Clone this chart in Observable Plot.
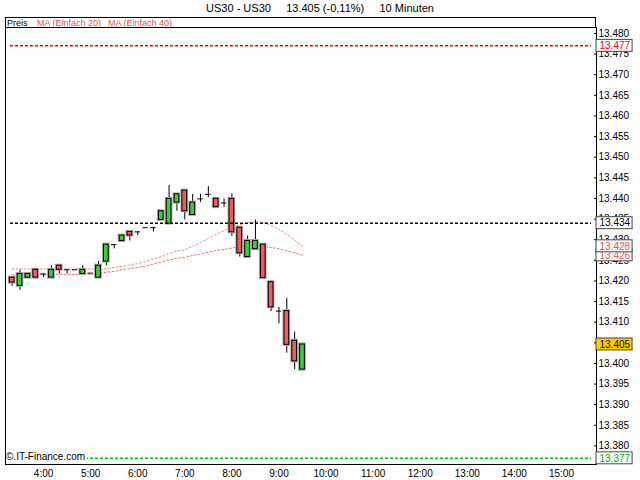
<!DOCTYPE html>
<html>
<head>
<meta charset="utf-8">
<script src="https://cdn.jsdelivr.net/npm/d3@7"></script>
<script src="https://cdn.jsdelivr.net/npm/@observablehq/plot@0.6"></script>
<style>
  body { margin: 0; background: #fff; font-family: "Liberation Sans", Arial, sans-serif; }
  #wrap { position: relative; width: 640px; height: 480px; overflow: hidden; }
  #title { height: 17px; line-height: 16px; font-size: 11px; text-align: center; white-space: pre; padding-left: 0px; }
  #legend { position: absolute; left: 5px; top: 17px; width: 589px; height: 9px; border: 1px solid #000;
            font-size: 9px; line-height: 10px; white-space: pre; background: #fff; }
  #legend span { position: absolute; top: 0; }
  #copy { position: absolute; left: 6px; top: 451px; font-size: 10px; line-height: 11px; background: #fff; padding-right: 2px; }
</style>
</head>
<body>
<div id="wrap">
  <div id="title">US30 - US30     13.405 (-0,11%)     10 Minuten</div>
  <div id="legend">
    <span style="left:1px;color:#000">Preis</span>
    <span style="left:31px;color:#f05050">MA (Einfach 20)</span>
    <span style="left:102px;color:#f05050">MA (Einfach 40)</span>
  </div>
  <div id="chart"></div>
  <div id="copy">©.IT-Finance.com</div>
</div>
<script>
  // 10 minute bars, values in index points
  const times = ["3:20", "3:30", "3:40", "3:50", "4:00", "4:10", "4:20", "4:30", "4:40", "4:50",
    "5:00", "5:10", "5:20", "5:30", "5:40", "5:50", "6:00", "6:10", "6:20", "6:30",
    "6:40", "6:50", "7:00", "7:10", "7:20", "7:30", "7:40", "7:50", "8:00", "8:10",
    "8:20", "8:30", "8:40", "8:50", "9:00", "9:10", "9:20", "9:30"];
  const opens = [13420.8, 13418.8, 13420.8, 13422.7, 13421.7, 13420.8, 13423.7, 13422.7, 13422.7, 13421.7,
    13421.9, 13420.8, 13424.7, 13428.8, 13429.7, 13431.9, 13431.9, 13432.9, 13432.9, 13434.8,
    13433.9, 13439.0, 13441.9, 13436.0, 13439.9, 13441.0, 13439.9, 13438.9, 13439.9, 13432.9,
    13425.8, 13427.7, 13428.8, 13419.7, 13412.7, 13412.7, 13405.5, 13398.5];
  const highs = [13420.8, 13422.6, 13421.7, 13422.7, 13421.7, 13423.7, 13423.7, 13422.7, 13422.7, 13423.7,
    13421.9, 13424.7, 13428.8, 13428.8, 13431.0, 13431.9, 13431.9, 13432.9, 13432.9, 13436.9,
    13443.1, 13441.0, 13441.9, 13441.0, 13441.0, 13442.9, 13439.9, 13439.9, 13441.1, 13432.9,
    13430.9, 13434.8, 13428.8, 13419.7, 13413.6, 13415.8, 13407.6, 13404.6];
  const lows = [13418.7, 13417.7, 13420.8, 13420.8, 13420.8, 13420.8, 13421.7, 13421.7, 13422.7, 13421.7,
    13421.9, 13420.8, 13423.7, 13427.8, 13429.7, 13429.7, 13431.0, 13432.9, 13431.9, 13434.8,
    13433.9, 13436.9, 13434.8, 13436.0, 13439.0, 13440.2, 13437.9, 13437.9, 13430.8, 13425.8,
    13425.8, 13427.7, 13420.7, 13412.6, 13409.6, 13402.5, 13398.5, 13398.5];
  const closes = [13419.6, 13421.7, 13421.7, 13420.8, 13421.7, 13422.7, 13422.7, 13422.7, 13422.7, 13422.7,
    13421.9, 13423.7, 13428.8, 13428.8, 13431.0, 13431.0, 13431.9, 13432.9, 13432.9, 13436.9,
    13439.9, 13441.0, 13436.9, 13439.0, 13439.9, 13441.0, 13437.9, 13438.9, 13431.8, 13426.7,
    13429.7, 13429.7, 13420.7, 13413.6, 13412.7, 13404.5, 13400.5, 13404.6];
  const ma20 = [13422.9, 13422.9, 13422.9, 13422.9, 13422.9, 13422.9, 13422.9, 13422.9, 13422.9, 13422.9,
    13422.9, 13422.9, 13423.0, 13423.3, 13423.5, 13423.9, 13424.2, 13424.7, 13425.3, 13425.9,
    13426.7, 13427.2, 13427.5, 13428.4, 13429.3, 13430.3, 13431.3, 13432.2, 13433.0, 13433.6,
    13434.1, 13434.4, 13434.2, 13433.5, 13432.5, 13431.3, 13429.9, 13428.4];
  const ma40 = [13421.5, 13421.5, 13421.5, 13421.5, 13421.5, 13421.6, 13421.6, 13421.6, 13421.6, 13421.6,
    13421.6, 13421.8, 13422.1, 13422.3, 13422.7, 13423.0, 13423.3, 13423.6, 13424.1, 13424.6,
    13425.1, 13425.5, 13425.7, 13426.2, 13426.5, 13427.0, 13427.4, 13427.6, 13428.0, 13428.2,
    13428.4, 13428.4, 13428.3, 13428.1, 13427.8, 13427.3, 13426.8, 13426.2];

  const highLevel = 13477;
  const refLevel = 13434;
  const lowLevel = 13377;

  const hourTicks = ["4:00", "5:00", "6:00", "7:00", "8:00", "9:00", "10:00", "11:00", "12:00", "13:00", "14:00", "15:00"];
  const yTicks = d3.range(13380, 13481, 5);
  const xRange = ["3:11:30", "15:44:40"];
  const yRange = [13375.5, 13481.45];

  const T = (s) => {
    const [h, m, sec = 0] = s.split(":").map(Number);
    return new Date(Date.UTC(2012, 4, 2, h, m, sec));
  };
  const MIN = 60e3;
  const de = d3.formatLocale({ decimal: ",", thousands: ".", grouping: [3], currency: ["", " €"] });
  const fmt = de.format(",.0f");

  const bars = times.map((t, i) => ({
    date: T(t), open: opens[i], high: highs[i], low: lows[i], close: closes[i], ma20: ma20[i], ma40: ma40[i]
  }));
  const bodies = bars.filter((d) => d.open !== d.close);
  const dojis = bars.filter((d) => d.open === d.close);
  const xDomain = xRange.map(T);
  const xEnd = xDomain[1];

  const green = "#3ccc3c", red = "#ec5c5c";
  const tags = [
    { y: ma40.at(-1), color: "#e06060", fill: "#fff" },
    { y: ma20.at(-1), color: "#e05050", fill: "#fff" },
    { y: highLevel, color: "#ff0000", fill: "#fff" },
    { y: refLevel, color: "#000", fill: "#fff" },
    { y: closes.at(-1), color: "#000", fill: "#ffcc00" },
    { y: lowLevel, color: "#00b000", fill: "#fff" },
  ];

  const plot = Plot.plot({
    width: 640,
    height: 463,
    marginLeft: 5,
    marginRight: 44,
    marginTop: 10,
    marginBottom: 16,
    style: { fontFamily: "Liberation Sans, Arial, sans-serif", fontSize: "10px", background: "#fff", color: "#000" },
    x: { type: "utc", domain: xDomain },
    y: { domain: yRange },
    marks: [
      Plot.ruleY([highLevel], { stroke: "#ff0000", strokeWidth: 1.5, strokeDasharray: "3,2", insetLeft: 5, insetRight: 5 }),
      Plot.ruleY([lowLevel], { stroke: "#00c000", strokeWidth: 1.5, strokeDasharray: "3,2", insetLeft: 5, insetRight: 5 }),
      Plot.lineY(bars, { x: "date", y: "ma40", stroke: "#e84848", strokeWidth: 1, strokeDasharray: "2,2", strokeOpacity: 0.75 }),
      Plot.lineY(bars, { x: "date", y: "ma20", stroke: "#f06060", strokeWidth: 1, strokeDasharray: "2,2", strokeOpacity: 0.7 }),
      Plot.ruleX(bars, { x: "date", y1: "low", y2: "high", stroke: "#000", strokeWidth: 1 }),
      Plot.rect(bodies, {
        x1: (d) => +d.date - 3 * MIN, x2: (d) => +d.date + 3 * MIN, y1: "open", y2: "close",
        stroke: "#aaa", strokeWidth: 3, fill: "none"
      }),
      Plot.rect(bodies, {
        x1: (d) => +d.date - 3 * MIN, x2: (d) => +d.date + 3 * MIN, y1: "open", y2: "close",
        fill: (d) => (d.close > d.open ? green : red), stroke: "#000", strokeWidth: 1
      }),
      Plot.ruleY(dojis, { y: "open", x1: (d) => +d.date - 3.5 * MIN, x2: (d) => +d.date + 3.5 * MIN, stroke: "#000", strokeWidth: 1 }),
      Plot.ruleY([refLevel], { stroke: "#000", strokeWidth: 1.5, strokeDasharray: "3,2", insetLeft: 5, insetRight: 5 }),
      Plot.frame({ stroke: "#000" }),
      Plot.axisX(hourTicks.map(T), { anchor: "bottom", tickSize: 0, tickPadding: 5, tickFormat: d3.utcFormat("%-H:%M") }),
      Plot.axisY(yTicks, { anchor: "right", tickSize: 3, tickPadding: 2, dx: -3, tickFormat: fmt, fill: "#000" }),
      Plot.rect(tags, {
        x1: () => xEnd, x2: () => +xEnd + 46 * MIN, y1: (d) => d.y - 1.45, y2: (d) => d.y + 1.45,
        fill: (d) => d.fill, stroke: "#444", strokeWidth: 1, clip: false
      }),
      Plot.text(tags, { x: () => xEnd, y: "y", text: (d) => fmt(d.y), fill: (d) => d.color, textAnchor: "start", dx: 3, clip: false })
    ]
  });
  document.getElementById("chart").appendChild(plot);
</script>
</body>
</html>
